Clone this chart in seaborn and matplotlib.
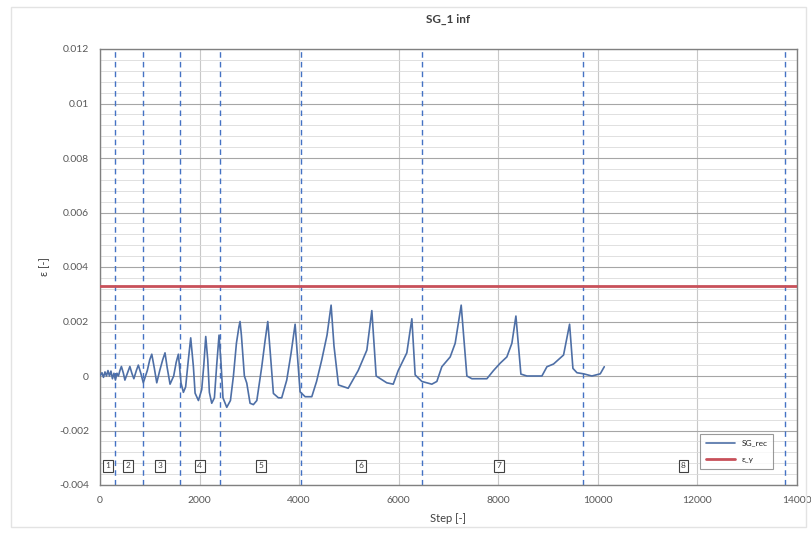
import matplotlib
matplotlib.use("Agg")
import matplotlib.pyplot as plt
import numpy as np
import pandas as pd
import seaborn as sns
from matplotlib.ticker import FixedLocator, MultipleLocator

# Data
steps = [0, 40, 70, 100, 130, 160, 190, 220, 250, 280, 310, 340, 370,
         400, 430, 470, 500, 550, 600, 640, 680, 730, 770, 820, 870, 950,
         1000, 1040, 1090, 1140, 1200, 1260, 1306, 1350, 1407, 1480, 1530,
         1574, 1628, 1675, 1720, 1775, 1822, 1876, 1910, 1977, 2043, 2085,
         2124, 2164, 2197, 2244, 2298, 2344, 2391, 2430, 2470, 2546, 2620,
         2680, 2740, 2790, 2813, 2840, 2900, 2948, 3014, 3081, 3150, 3249,
         3316, 3370, 3416, 3483, 3583, 3650, 3751, 3838, 3919, 3972, 4019,
         4120, 4254, 4350, 4455, 4560, 4642, 4700, 4790, 4900, 4985, 5186,
         5360, 5460, 5547, 5760, 5890, 5990, 6163, 6264, 6330, 6465, 6665,
         6766, 6866, 7034, 7134, 7255, 7369, 7470, 7771, 7904, 8038, 8172,
         8273, 8354, 8454, 8575, 8876, 8977, 9110, 9311, 9432, 9499, 9580,
         9713, 9880, 10048, 10129]
strain = [0.0, 0.00012, -0.00005, 0.00015, 0.0, 0.0002, 0.0, 0.00018,
          -0.0001, 0.0001, -0.00015, 0.0001, 0.0,
          0.0002, 0.00035, 0.0001, -0.00015, 0.0001, 0.00035, 0.0001,
          -0.0001, 0.0002, 0.0004, 0.0001, -0.00025, 0.0002,
          0.0006, 0.0008, 0.0003, -0.00025, 0.0002, 0.0006, 0.00085, 0.0003,
          -0.0003, 0.0, 0.0005,
          0.0008, -0.00026, -0.0006, -0.0004, 0.0006, 0.0014, 0.00034,
          -0.00063, -0.0009, -0.0005, 0.0004,
          0.00145, 0.0006, -0.0006, -0.001, -0.0008, 0.0004, 0.0015, 0.0005,
          -0.0008, -0.00115, -0.0009,
          0.0, 0.0012, 0.0018, 0.002, 0.0015, 0.0, -0.00026, -0.001,
          -0.00105, -0.0009, 0.00034,
          0.0013, 0.002, 0.00095, -0.00064, -0.0008, -0.0008, -0.00015,
          0.00084, 0.0019, 0.0006, -0.00058,
          -0.00076, -0.00076, -0.0002, 0.0006, 0.0015, 0.0026, 0.0011,
          -0.00033, -0.0004, -0.00045, 0.0002,
          0.00095, 0.0024, 0.0, -0.00025, -0.0003, 0.0002, 0.00085, 0.0021,
          0.00004, -0.0002, -0.0003,
          -0.0002, 0.00034, 0.0007, 0.0012, 0.0026, 0.0, -0.0001, -0.0001,
          0.0002, 0.00047, 0.0007,
          0.0012, 0.0022, 0.00007, 0.0, 0.0, 0.00034, 0.00044, 0.00077,
          0.0019, 0.00028, 0.00012,
          0.00008, 0.0, 0.00008, 0.00034]
eps_y = 0.0033
phase_ends = [300, 860, 1610, 2420, 4040, 6460, 9700, 13760]
phase_labels = ["1", "2", "3", "4", "5", "6", "7", "8"]
phase_label_x = [160, 560, 1200, 2000, 3230, 5240, 8020, 11720]
label_y = -0.0033
yticks = [-0.004, -0.002, 0, 0.002, 0.004, 0.006, 0.008, 0.01, 0.012]
xticks = [0, 2000, 4000, 6000, 8000, 10000, 12000, 14000]

sns.set_theme(style="white")
plt.rcParams["font.family"] = ["Lato", "DejaVu Sans"]

df = pd.DataFrame({"Step": steps, "strain": strain})

fig = plt.figure(figsize=(8.11, 5.34), dpi=100)
fig.patch.set_facecolor("white")
ax = fig.add_axes([100 / 811, 49 / 534, 697 / 811, 436 / 534])

# grid
ax.set_xlim(0, 14000)
ax.set_ylim(-0.004, 0.012)
ax.xaxis.set_major_locator(FixedLocator(xticks))
ax.yaxis.set_major_locator(FixedLocator(yticks))
ax.yaxis.set_minor_locator(MultipleLocator(0.0004))
ax.grid(which="major", axis="x", color="#c8c8c8", lw=0.8)
ax.grid(which="major", axis="y", color="#a6a6a6", lw=0.8)
ax.grid(which="minor", axis="y", color="#dadada", lw=0.6)
ax.set_axisbelow(True)

for x in phase_ends:
    ax.axvline(x, color="#4472C4", lw=1.0, ls=(0, (4, 3)), zorder=2)

ax.axhline(eps_y, color="#C8505A", lw=2.0, zorder=3, label="ε_y")
sns.lineplot(data=df, x="Step", y="strain", ax=ax, sort=False,
             color="#4E6FA6", lw=1.2, zorder=4, label="SG_rec")

for xl, t in zip(phase_label_x, phase_labels):
    ax.text(xl, label_y, t, ha="center", va="center", fontsize=6, color="#404040",
            bbox=dict(boxstyle="square,pad=0.3", fc="white", ec="#404040", lw=0.8),
            zorder=5)

ax.set_yticklabels(["%g" % v for v in yticks])
ax.set_xticklabels([str(v) for v in xticks])
ax.tick_params(axis="both", which="both", length=0, labelsize=7.5,
               labelcolor="#595959", pad=8)

for s in ax.spines.values():
    s.set_color("#808080")
    s.set_linewidth(1.0)

ax.set_xlabel("Step [-]", fontsize=8, color="#404040", labelpad=6)
ax.set_ylabel("ε [-]", fontsize=8, color="#404040", labelpad=6)
ax.set_title("SG_1 inf", fontsize=8.5, fontweight="bold", color="#404040", pad=19)

handles, labels = ax.get_legend_handles_labels()
order = [labels.index("SG_rec"), labels.index("ε_y")]
leg = ax.legend([handles[i] for i in order], [labels[i] for i in order],
                loc="lower right", bbox_to_anchor=(0.972, 0.028), fontsize=6,
                frameon=True, fancybox=False, handlelength=3.5, borderpad=0.7,
                labelspacing=1.1)
leg.get_frame().set_edgecolor("#808080")
leg.get_frame().set_linewidth(0.8)

# faint chart-area border
fig.add_artist(plt.Rectangle((11 / 811, 7 / 534), 795 / 811, 520 / 534,
                             transform=fig.transFigure, fill=False,
                             ec="#e3e3e3", lw=1.0))

fig.savefig("out.png", dpi=100)
